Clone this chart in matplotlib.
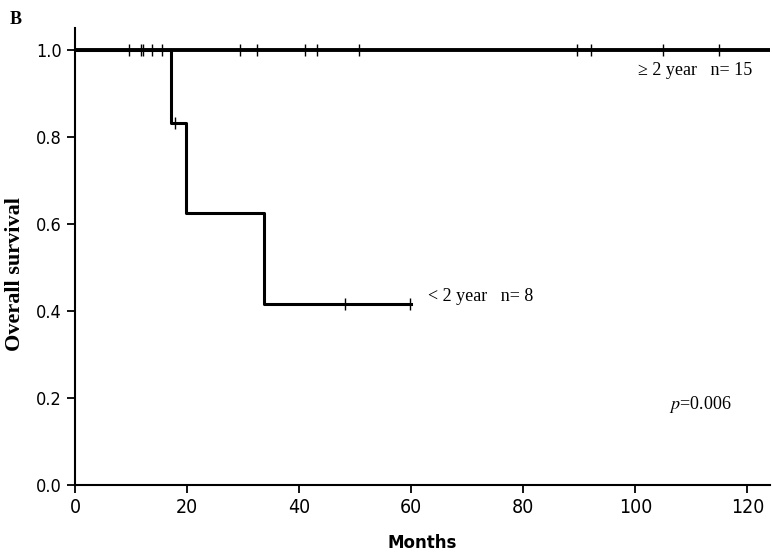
import matplotlib
matplotlib.use("Agg")
import matplotlib.pyplot as plt

# >= 2 year group: no events, censored times
hi_censor = [9.7, 11.7, 12.2, 13.8, 15.6, 29.5, 32.4, 41.0, 43.2, 50.7,
             89.6, 92.1, 104.9, 114.9]
hi_end = 126

# < 2 year group: step curve
lo_times = [0, 17.1, 19.8, 33.8, 60.0]
lo_surv = [1.0, 0.833, 0.625, 0.417, 0.417]
lo_censor_t = [17.8, 48.2, 59.7]
lo_censor_s = [0.833, 0.417, 0.417]

xticks = [0, 20, 40, 60, 80, 100, 120]
yticks = [0.0, 0.2, 0.4, 0.6, 0.8, 1.0]

serif = ["Liberation Serif", "DejaVu Serif"]
plt.rcParams["mathtext.fontset"] = "stix"

fig = plt.figure(figsize=(7.72, 5.59), dpi=100)
ax = fig.add_axes([0.0972, 0.1324, 0.9, 0.8171])

ax.step([0, hi_end], [1.0, 1.0], where="post", color="black", lw=2.8, zorder=3)
ax.plot(hi_censor, [1.0] * len(hi_censor), "|", color="black", ms=8, mew=1.0, zorder=4)

ax.step(lo_times, lo_surv, where="post", color="black", lw=2.2, zorder=3)
ax.plot(lo_censor_t, lo_censor_s, "|", color="black", ms=8, mew=1.0, zorder=4)

ax.set_xlim(0, 124)
ax.set_ylim(0, 1.05)
ax.set_xticks(xticks)
ax.set_yticks(yticks)
ax.set_yticklabels(["%.1f" % v for v in yticks], fontsize=13, fontstretch="condensed")
ax.set_xticklabels([str(v) for v in xticks], fontsize=14, fontstretch="condensed")
ax.tick_params(axis="both", direction="out", length=6, width=1.3, color="black")
for s in ["top", "right"]:
    ax.spines[s].set_visible(False)
for s in ["left", "bottom"]:
    ax.spines[s].set_linewidth(1.5)

ax.set_xlabel("Months", fontsize=12, fontweight="bold", labelpad=12)
ax.set_ylabel("Overall survival", fontsize=16, fontweight="bold", family=serif)
ax.yaxis.set_label_coords(-0.072, 0.462)

ax.text(100.4, 0.952, "\u2265 2 year   n= 15", fontsize=13, family=serif, ha="left", va="center")
ax.text(63, 0.433, "< 2 year   n= 8", fontsize=13, family=serif, ha="left", va="center")
ax.text(106, 0.185, "$\\it{p}$=0.006", fontsize=13, family=serif, ha="left", va="center")

fig.text(0.013, 0.966, "B", fontsize=13, fontweight="bold", family=serif, ha="left", va="center")

fig.savefig("out.png", dpi=100)
